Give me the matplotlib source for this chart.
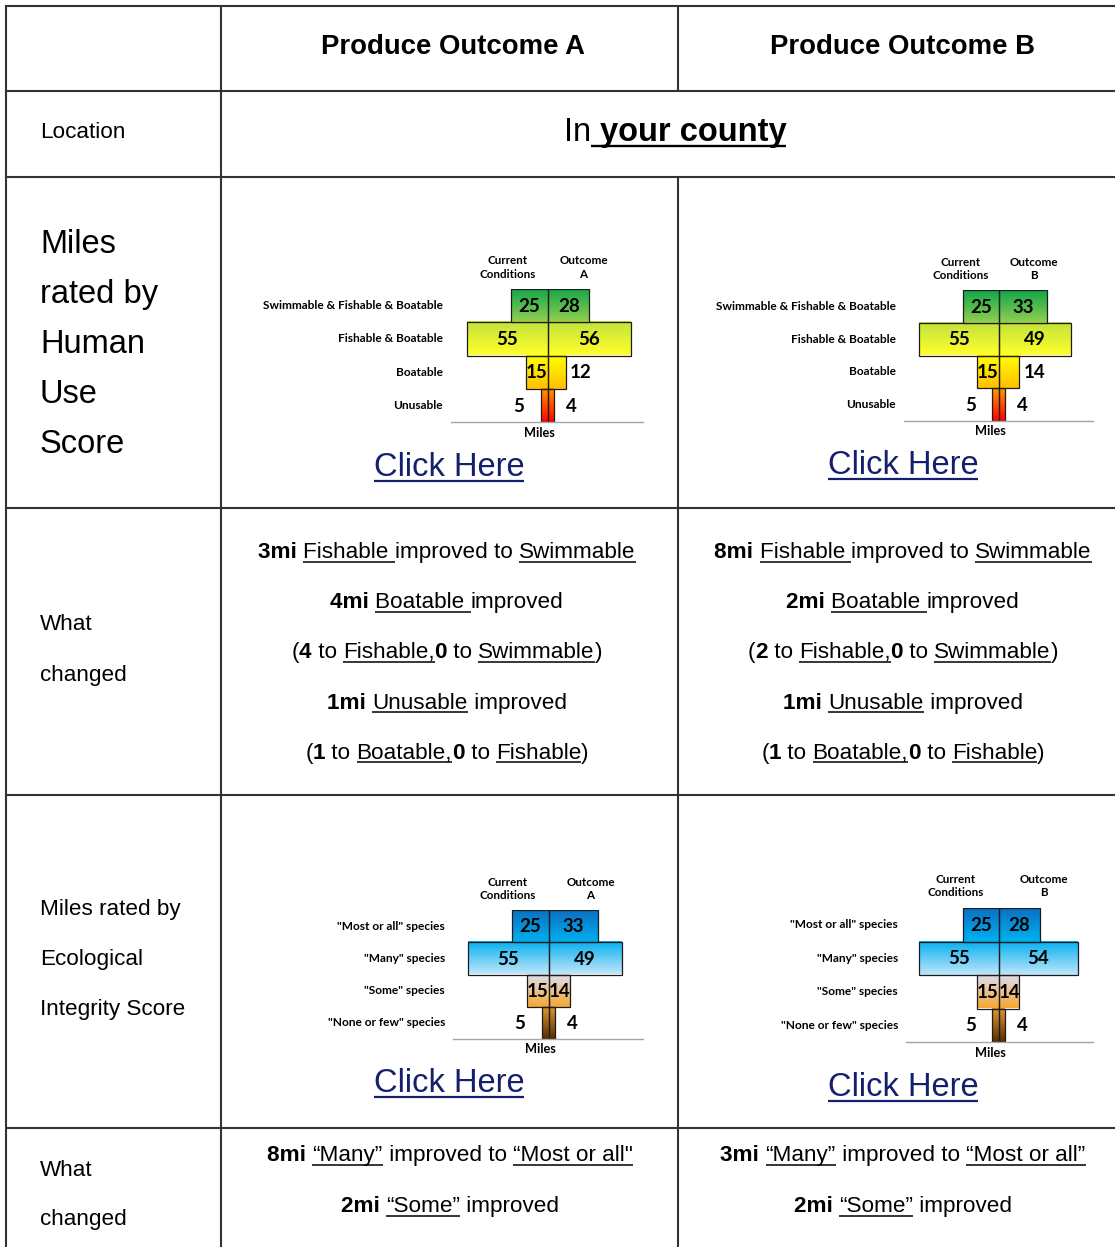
import numpy as np
import matplotlib
matplotlib.use("Agg")
import matplotlib.pyplot as plt
from matplotlib.colors import LinearSegmentedColormap

plt.rcParams["font.family"] = ["Liberation Sans", "DejaVu Sans"]

# -----------------------------
# Datos
# -----------------------------
human_labels = ["Swimmable & Fishable & Boatable", "Fishable & Boatable", "Boatable", "Unusable"]
eco_labels = ['"Most or all" species', '"Many" species', '"Some" species', '"None or few" species']

current_human = [25, 55, 15, 5]
outcome_a_human = [28, 56, 12, 4]
outcome_b_human = [33, 49, 14, 4]

current_eco = [25, 55, 15, 5]
outcome_a_eco = [33, 49, 14, 4]
outcome_b_eco = [28, 54, 14, 4]

# runs: (texto, negrita, subrayado)
changed_human_a = [
    [("3mi ", True, False), ("Fishable ", False, True), ("improved to ", False, False), ("Swimmable", False, True)],
    [("4mi ", True, False), ("Boatable ", False, True), ("improved", False, False)],
    [("(", False, False), ("4", True, False), (" to ", False, False), ("Fishable,", False, True),
     ("0", True, False), (" to ", False, False), ("Swimmable", False, True), (")", False, False)],
    [("1mi ", True, False), ("Unusable", False, True), (" improved", False, False)],
    [("(", False, False), ("1", True, False), (" to ", False, False), ("Boatable,", False, True),
     ("0", True, False), (" to ", False, False), ("Fishable", False, True), (")", False, False)],
]
changed_human_b = [
    [("8mi ", True, False), ("Fishable ", False, True), ("improved to ", False, False), ("Swimmable", False, True)],
    [("2mi ", True, False), ("Boatable ", False, True), ("improved", False, False)],
    [("(", False, False), ("2", True, False), (" to ", False, False), ("Fishable,", False, True),
     ("0", True, False), (" to ", False, False), ("Swimmable", False, True), (")", False, False)],
    [("1mi ", True, False), ("Unusable", False, True), (" improved", False, False)],
    [("(", False, False), ("1", True, False), (" to ", False, False), ("Boatable,", False, True),
     ("0", True, False), (" to ", False, False), ("Fishable", False, True), (")", False, False)],
]
changed_eco_a = [
    [("8mi ", True, False), ("\u201cMany\u201d", False, True), (" improved to ", False, False), ("\u201cMost or all\"", False, True)],
    [("2mi ", True, False), ("\u201cSome\u201d", False, True), (" improved", False, False)],
]
changed_eco_b = [
    [("3mi ", True, False), ("\u201cMany\u201d", False, True), (" improved to ", False, False), ("\u201cMost or all\u201d", False, True)],
    [("2mi ", True, False), ("\u201cSome\u201d", False, True), (" improved", False, False)],
]

human_grads = [("#12a64a", "#92d050"), ("#c2e23c", "#ffff2a"), ("#ffff00", "#ffbf00"), ("#ff9a00", "#ff0000")]
eco_grads = [("#0a6fc2", "#00b0f0"), ("#06b0f0", "#bfe6fb"), ("#dde0f2", "#f6a733"), ("#e09a30", "#5c2c00")]

# -----------------------------
# Figura y tabla
# -----------------------------
W, H = 1115, 1247
fig = plt.figure(figsize=(W / 100, H / 100), dpi=100)
ax = fig.add_axes([0, 0, 1, 1])
ax.set_xlim(0, W)
ax.set_ylim(H, 0)
ax.axis("off")
renderer = fig.canvas.get_renderer()

line_kw = dict(color="#333333", lw=1.5, solid_capstyle="butt")
for y in [6, 91, 177, 508, 795, 1128]:
    ax.plot([5, W], [y, y], **line_kw)
ax.plot([6, 6], [5, H], **line_kw)
ax.plot([221, 221], [5, H], **line_kw)
ax.plot([678, 678], [5, 91], **line_kw)
ax.plot([678, 678], [177, H], **line_kw)


def rich_line(x, y, runs, size, color="black", ul_off=3.5, ul_lw=1.1):
    widths = []
    for txt, bold, ul in runs:
        w = "bold" if bold else "normal"
        t1 = ax.text(0, 0, "X" + txt + "X", fontsize=size, fontweight=w)
        t2 = ax.text(0, 0, "XX", fontsize=size, fontweight=w)
        widths.append(t1.get_window_extent(renderer).width - t2.get_window_extent(renderer).width)
        t1.remove()
        t2.remove()
    x0 = x - sum(widths) / 2
    for (txt, bold, ul), w in zip(runs, widths):
        ax.text(x0, y, txt, fontsize=size, fontweight="bold" if bold else "normal",
                color=color, ha="left", va="baseline")
        if ul:
            ax.plot([x0, x0 + w], [y + ul_off] * 2, color=color, lw=ul_lw, solid_capstyle="butt")
        x0 += w


# encabezados
ax.text(453, 47, "Produce Outcome A", fontsize=19.8, fontweight="bold", ha="center", va="center")
ax.text(903, 47, "Produce Outcome B", fontsize=19.8, fontweight="bold", ha="center", va="center")

# columna izquierda
small = 16.2
big = 23.5
ax.text(40, 133, "Location", fontsize=small, va="center")
for i, s in enumerate(["Miles", "rated by", "Human", "Use", "Score"]):
    ax.text(40, 253 + 50 * i, s, fontsize=big, va="baseline")
ax.text(40, 624, "What", fontsize=small, va="center")
ax.text(40, 675, "changed", fontsize=small, va="center")
for i, s in enumerate(["Miles rated by", "Ecological", "Integrity Score"]):
    ax.text(40, 910 + 50 * i, s, fontsize=small, va="center")
ax.text(40, 1170, "What", fontsize=small, va="center")
ax.text(40, 1219, "changed", fontsize=small, va="center")

# ubicación
rich_line(675, 141, [("In", False, False), (" ", False, True), ("your county", True, True)], big,
          ul_off=4.5, ul_lw=1.7)

# enlaces
link = "#14206e"
for x, y in [(449, 476), (903, 474), (449, 1092), (903, 1096)]:
    rich_line(x, y, [("Click Here", False, True)], big, color=link, ul_off=4.5, ul_lw=1.6)

# qué cambió
for i, runs in enumerate(changed_human_a):
    rich_line(447, 558 + 50.2 * i, runs, small)
for i, runs in enumerate(changed_human_b):
    rich_line(903, 558 + 50.2 * i, runs, small)
for i, runs in enumerate(changed_eco_a):
    rich_line(450, 1161 + 51 * i, runs, small)
for i, runs in enumerate(changed_eco_b):
    rich_line(903, 1161 + 51 * i, runs, small)

# -----------------------------
# Pirámides
# -----------------------------
grad = np.linspace(0, 1, 64).reshape(-1, 1)
cfont = "Lato"


def pyramid(box, center, scale, label_px, labels, cur, out, outcome, grads, flags, heads):
    x0, x1, y0, y1 = box
    a = fig.add_axes([x0 / W, 1 - y1 / H, (x1 - x0) / W, (y1 - y0) / H])
    a.patch.set_alpha(0)
    for i in range(4):
        cmap = LinearSegmentedColormap.from_list("g%d" % i, grads[i])
        for val, sign, fl in ((cur[i], -1, flags[0][i]), (out[i], 1, flags[1][i])):
            ext = (-val, 0, i + 1, i) if sign < 0 else (0, val, i + 1, i)
            a.imshow(grad, cmap=cmap, extent=ext, aspect="auto", zorder=1, interpolation="bilinear")
            a.barh(i + 0.5, sign * val, height=1, fill=False, edgecolor="#1c1c1c", lw=0.9, zorder=2)
            if fl:
                a.text(sign * val / 2, i + 0.52, str(val), ha="center", va="center",
                       fontsize=13.5, fontweight="bold", family=cfont, zorder=3)
            else:
                gap = 11 if sign < 0 else (8 if i == 3 else 3)
                a.text(sign * (val + gap), i + 0.52, str(val), ha="left" if sign > 0 else "right",
                       va="center", fontsize=13.5, fontweight="bold", family=cfont, zorder=3)
        a.text((label_px - center) / scale, i + 0.5, labels[i], ha="right", va="center",
               fontsize=8.6, fontweight="bold", family=cfont)
    a.text(heads[0], -0.65, "Current\nConditions", ha="center", va="center", fontsize=8.4,
           fontweight="bold", family=cfont, linespacing=1.25)
    a.text(heads[1], -0.65, "Outcome\n" + outcome, ha="center", va="center", fontsize=8.4,
           fontweight="bold", family=cfont, linespacing=1.25)
    a.text(-6, 4.32, "Miles", ha="center", va="center", fontsize=9.2, fontweight="bold", family=cfont)
    a.set_xlim((x0 - center) / scale, (x1 - center) / scale)
    a.set_ylim(4, 0)
    a.set_xticks([])
    a.set_yticks([])
    for s in ["top", "left", "right"]:
        a.spines[s].set_visible(False)
    a.spines["bottom"].set_color("#a6a6a6")
    a.spines["bottom"].set_linewidth(1.0)


flags_h = ([True, True, True, False], [True, True, False, False])
flags_e = ([True, True, True, False], [True, True, True, False])

pyramid((451, 643, 289, 422), 548, 1.48, 443, human_labels, current_human, outcome_a_human, "A",
        human_grads, flags_h, (-27, 24))
pyramid((904, 1093, 290, 421), 999, 1.46, 896, human_labels, current_human, outcome_b_human, "B",
        human_grads, flags_h, (-26, 24))
pyramid((453, 643, 910, 1039), 549, 1.48, 445, eco_labels, current_eco, outcome_a_eco, "A",
        eco_grads, flags_e, (-28, 28))
pyramid((906, 1093, 908, 1042), 999, 1.46, 898, eco_labels, current_eco, outcome_b_eco, "B",
        eco_grads, flags_e, (-30, 31))

fig.savefig("out.png", dpi=100, facecolor="white")
